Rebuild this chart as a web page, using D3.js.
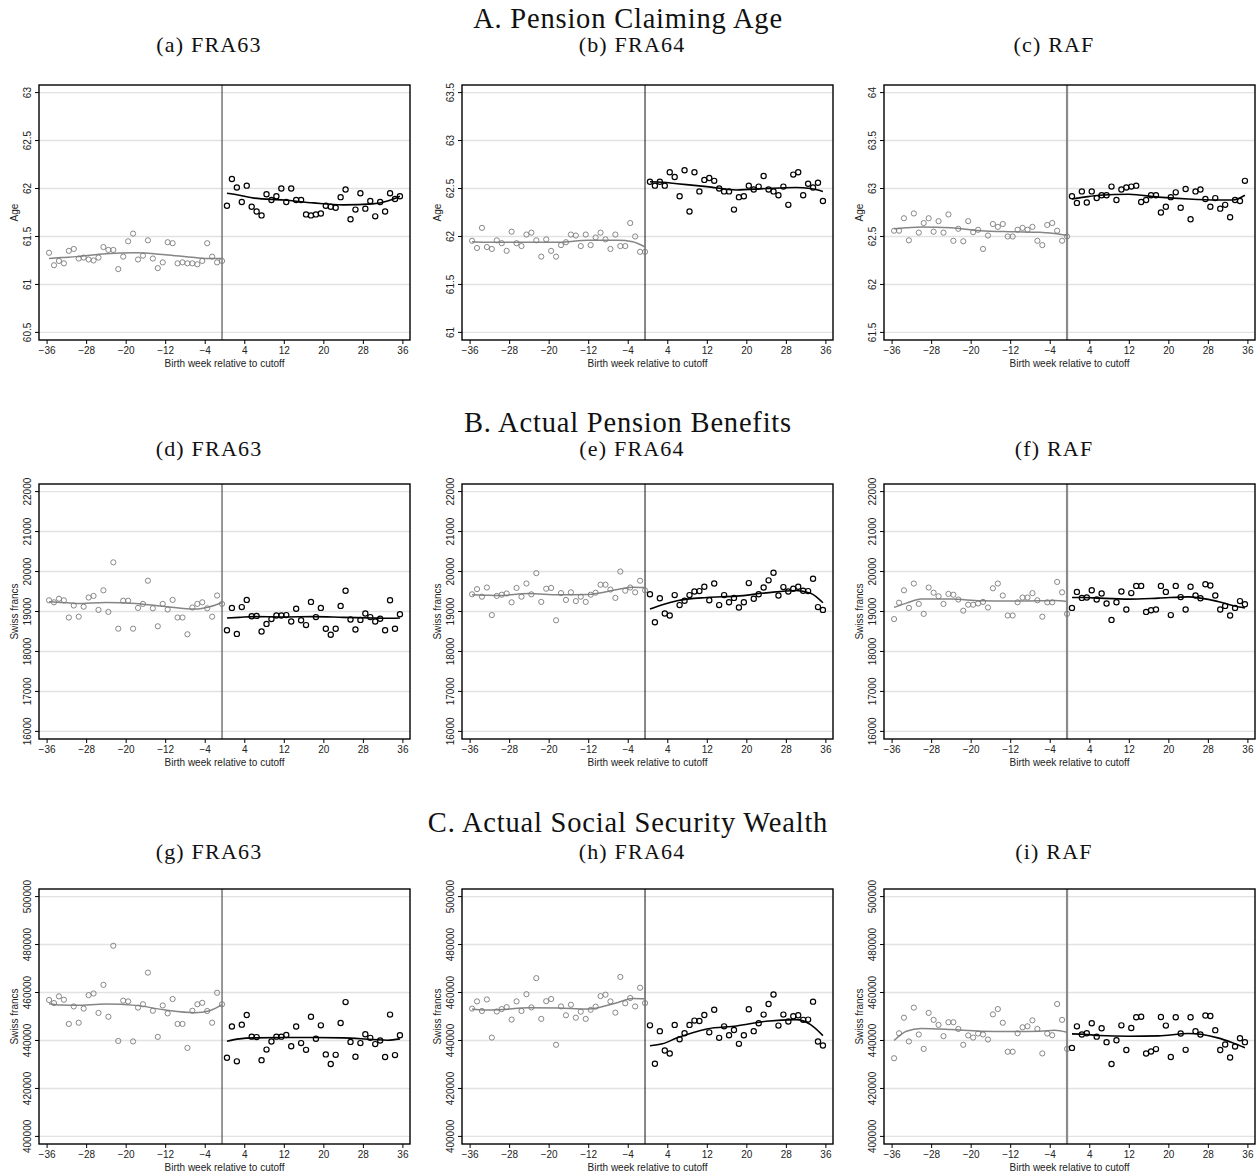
<!DOCTYPE html>
<html>
<head>
<meta charset="utf-8">
<script src="https://cdn.jsdelivr.net/npm/d3@7"></script>
<style>
  body { margin: 0; background: #fff; }
  svg { display: block; }
</style>
</head>
<body>
<svg id="chart" width="1259" height="1173"></svg>
<script>
// birth week bins (x categories)
var weeksLeft = d3.range(-35.5, 0, 1)
var weeksRight = d3.range(0.5, 36, 1)
var fitWeeksLeft = [-35.5, -33, -30, -24, -18, -12, -6, -3, -0.5]
var fitWeeksRight = [0.5, 3, 6, 12, 18, 24, 30, 33, 35.5]
var xTicks = [-36, -28, -20, -12, -4, 4, 12, 20, 28, 36]

// A. pension claiming age
var ageFRA63Left = [61.33,61.20,61.245,61.22,61.35,61.37,61.27,61.28,61.26,61.25,61.28,61.39,61.36,61.36,61.16,61.29,61.45,61.53,61.26,61.30,61.46,61.27,61.17,61.23,61.44,61.43,61.22,61.23,61.22,61.22,61.21,61.245,61.43,61.29,61.23,61.245]
var ageFRA63Right = [61.82,62.10,62.01,61.86,62.03,61.81,61.76,61.72,61.94,61.88,61.92,62.00,61.86,62.00,61.88,61.88,61.73,61.72,61.73,61.74,61.82,61.81,61.80,61.91,61.99,61.68,61.78,61.95,61.79,61.87,61.71,61.86,61.76,61.95,61.89,61.92]
var ageFRA63FitLeft = [61.27,61.28,61.29,61.32,61.33,61.31,61.28,61.27,61.27]
var ageFRA63FitRight = [61.95,61.93,61.90,61.88,61.85,61.83,61.84,61.87,61.92]

var ageFRA64Left = [61.955,61.88,62.09,61.89,61.87,61.96,61.93,61.85,62.05,61.93,61.90,62.02,62.04,61.96,61.79,61.97,61.85,61.79,61.91,61.94,62.02,62.01,61.90,62.02,61.91,61.99,62.04,61.97,61.87,62.02,61.90,61.90,62.14,62.00,61.84,61.84]
var ageFRA64Right = [62.57,62.53,62.57,62.53,62.67,62.62,62.42,62.69,62.26,62.67,62.47,62.59,62.61,62.58,62.50,62.47,62.47,62.28,62.41,62.42,62.53,62.49,62.52,62.63,62.49,62.47,62.43,62.52,62.33,62.645,62.67,62.43,62.55,62.51,62.56,62.37]
var ageFRA64FitLeft = [61.945,61.94,61.94,61.94,61.94,61.96,61.96,61.945,61.89]
var ageFRA64FitRight = [62.57,62.565,62.55,62.52,62.485,62.50,62.51,62.50,62.47]

var ageRAFLeft = [62.56,62.56,62.69,62.46,62.74,62.54,62.64,62.69,62.55,62.66,62.54,62.73,62.455,62.58,62.45,62.66,62.545,62.57,62.37,62.51,62.63,62.60,62.63,62.50,62.50,62.57,62.59,62.57,62.60,62.455,62.41,62.62,62.64,62.56,62.455,62.50]
var ageRAFRight = [62.92,62.85,62.97,62.855,62.97,62.90,62.93,62.93,63.02,62.88,62.99,63.01,63.02,63.03,62.86,62.88,62.93,62.93,62.75,62.81,62.91,62.96,62.80,62.995,62.68,62.97,62.99,62.89,62.81,62.90,62.79,62.83,62.70,62.88,62.87,63.08]
var ageRAFFitLeft = [62.58,62.59,62.60,62.59,62.56,62.55,62.545,62.53,62.51]
var ageRAFFitRight = [62.89,62.91,62.93,62.94,62.91,62.89,62.88,62.88,62.93]

// B. actual pension benefits
var benFRA63Left = [19280,19230,19320,19280,18850,19150,18870,19120,19350,19390,19040,19530,18990,20230,18570,19270,19270,18570,19090,19190,19770,19080,18630,19190,19050,19290,18850,18850,18430,19100,19190,19230,19080,18870,19400,19190]
var benFRA63Right = [18530,19090,18440,19110,19290,18880,18890,18500,18690,18810,18900,18900,18910,18750,19070,18780,18660,19240,18860,19090,18570,18420,18570,19140,19520,18800,18550,18790,18950,18860,18750,18820,18530,19280,18570,18930]
var benFRA63FitLeft = [19243,19227,19202,19227,19202,19127,19061,19119,19227]
var benFRA63FitRight = [18838,18854,18871,18863,18871,18854,18838,18830,18838]

var benFRA64Left = [19430,19560,19370,19600,18910,19390,19420,19450,19230,19590,19370,19700,19430,19960,19240,19570,19590,18780,19460,19290,19480,19260,19370,19240,19420,19470,19670,19670,19550,19340,20000,19520,19600,19480,19770,19530]
var benFRA64Right = [19430,18730,19330,18950,18900,19410,19160,19270,19410,19500,19510,19620,19280,19700,19160,19410,19230,19340,19100,19230,19710,19320,19430,19600,19780,19970,19400,19610,19500,19570,19620,19520,19510,19820,19110,19040]
var benFRA64FitLeft = [19417,19409,19400,19450,19417,19426,19550,19608,19599]
var benFRA64FitRight = [19061,19168,19268,19351,19384,19467,19525,19459,19219]

var benRAFLeft = [18810,19220,19530,19090,19700,19190,18940,19600,19470,19380,19190,19440,19420,19300,19020,19170,19170,19200,19240,19100,19580,19700,19400,18900,18900,19230,19350,19350,19460,19280,18870,19230,19230,19740,19480,18940]
var benRAFRight = [19090,19490,19340,19350,19530,19300,19450,19200,18790,19230,19500,19050,19460,19640,19640,18990,19030,19050,19640,19490,18910,19640,19360,19050,19620,19400,19330,19680,19650,19400,19050,19140,18900,19090,19260,19180]
var benRAFFitLeft = [19103,19210,19310,19310,19268,19260,19268,19277,19252]
var benRAFFitRight = [19351,19351,19334,19310,19334,19367,19252,19152,19086]

// C. actual social security wealth
var sswFRA63Left = [456900,455600,458400,457000,446900,454200,447400,453300,458900,459600,451500,463200,449900,479500,439800,456600,456300,439600,453700,455100,468300,452400,441500,454600,451300,457300,446900,446900,436900,452400,455100,455700,452300,447400,459900,455100]
var sswFRA63Right = [432800,445800,431300,446600,450600,441600,441400,431800,436200,439600,441600,441600,442300,437600,445800,438900,436100,449900,440700,446300,434200,430200,434000,447300,456000,439400,433200,438900,442600,441100,438500,440000,433100,450800,433900,442200]
var sswFRA63FitLeft = [455330,454770,454640,455190,454640,452700,451600,452430,454920]
var sswFRA63FitRight = [439700,440670,441090,441230,441230,441090,440390,440120,440670]

var sswFRA64Left = [453300,456300,452300,457100,441200,452100,453100,453900,448700,456300,452300,459300,453800,466000,449000,456400,457300,438200,454200,450500,454900,449500,452000,449000,452800,454100,458500,459100,456300,451600,466500,455500,457700,454200,462000,455600]
var sswFRA64Right = [446300,430300,443900,435800,434600,446500,440500,443000,446500,448300,448100,450600,443400,452800,441100,445900,442200,444400,438600,442200,453000,443900,447200,450800,455200,459200,446200,450800,447900,450100,450500,448600,448700,456200,439600,437900]
var sswFRA64FitLeft = [453120,452700,452840,453670,453530,453120,455880,457540,457400]
var sswFRA64FitRight = [437770,438600,441090,444820,446060,448000,448690,446620,442050]

var sswRAFLeft = [432600,443000,449500,439600,453700,442500,436500,451500,448600,446500,441800,447600,447600,444800,438200,442100,441200,442900,442500,440400,450900,453100,447400,435300,435300,443000,445500,445900,448400,444800,434600,442900,442200,455200,448600,436500]
var sswRAFRight = [436900,445900,442500,443000,447200,441600,445100,439300,430200,440100,446300,436000,445200,449700,449900,434600,435400,436400,449800,446200,433100,449700,442900,436100,449700,443900,442500,450400,450200,444300,436000,438300,432900,437500,440900,439300]
var sswRAFFitLeft = [439980,443850,444960,444540,443850,443710,443850,444260,443430]
var sswRAFFitRight = [442740,442600,442050,441780,441920,442880,441090,439010,436935]

var rowTitles = ["A. Pension Claiming Age", "B. Actual Pension Benefits", "C. Actual Social Security Wealth"]
var panelTitles = ["(a) FRA63","(b) FRA64","(c) RAF","(d) FRA63","(e) FRA64","(f) RAF","(g) FRA63","(h) FRA64","(i) RAF"]
var yLabels = ["Age", "Swiss francs", "Swiss francs"]
var yTicksAgeFRA63 = [60.5, 61, 61.5, 62, 62.5, 63]
var yTicksAgeFRA64 = [61, 61.5, 62, 62.5, 63, 63.5]
var yTicksAgeRAF = [61.5, 62, 62.5, 63, 63.5, 64]
var yTicksBen = [16000, 17000, 18000, 19000, 20000, 21000, 22000]
var yTicksSsw = [400000, 420000, 440000, 460000, 480000, 500000]

var panels = [
  {left: ageFRA63Left, right: ageFRA63Right, fitL: ageFRA63FitLeft, fitR: ageFRA63FitRight, ticks: yTicksAgeFRA63},
  {left: ageFRA64Left, right: ageFRA64Right, fitL: ageFRA64FitLeft, fitR: ageFRA64FitRight, ticks: yTicksAgeFRA64},
  {left: ageRAFLeft, right: ageRAFRight, fitL: ageRAFFitLeft, fitR: ageRAFFitRight, ticks: yTicksAgeRAF},
  {left: benFRA63Left, right: benFRA63Right, fitL: benFRA63FitLeft, fitR: benFRA63FitRight, ticks: yTicksBen},
  {left: benFRA64Left, right: benFRA64Right, fitL: benFRA64FitLeft, fitR: benFRA64FitRight, ticks: yTicksBen},
  {left: benRAFLeft, right: benRAFRight, fitL: benRAFFitLeft, fitR: benRAFFitRight, ticks: yTicksBen},
  {left: sswFRA63Left, right: sswFRA63Right, fitL: sswFRA63FitLeft, fitR: sswFRA63FitRight, ticks: yTicksSsw},
  {left: sswFRA64Left, right: sswFRA64Right, fitL: sswFRA64FitLeft, fitR: sswFRA64FitRight, ticks: yTicksSsw},
  {left: sswRAFLeft, right: sswRAFRight, fitL: sswRAFFitLeft, fitR: sswRAFFitRight, ticks: yTicksSsw}
]

var svg = d3.select("#chart")
var colX = [39, 462, 884]
var rowY = [85, 484, 889]
var W = 371, H = 255, pad = 7.6
var titleY = [28, 432, 832]
var subY = [52, 456, 859]
// cutoff line looks a bit different in each column
var cutColor = ["#555", "#111", "#8a8a8a"]
var cutWidth = [1.2, 1, 2.2]
var sans = "'Liberation Sans', Arial, sans-serif"
var serif = "'Liberation Serif', 'Times New Roman', serif"
var minus = function(v) { return String(v).replace("-", "\u2212") }

rowTitles.forEach(function(t, r) {
  svg.append("text").text(t).attr("x", 628).attr("y", titleY[r])
    .attr("text-anchor", "middle").attr("font-family", serif).attr("font-size", 28.5)
    .attr("letter-spacing", 0.8).attr("fill", "#111")
})

panels.forEach(function(p, k) {
  var r = Math.floor(k / 3), c = k % 3
  var g = svg.append("g").attr("transform", "translate(" + colX[c] + "," + rowY[r] + ")")
  var x = d3.scaleLinear().domain([-36, 36]).range([pad, W - pad])
  var y = d3.scaleLinear().domain(d3.extent(p.ticks)).range([H - pad, pad])

  svg.append("text").text(panelTitles[k]).attr("x", colX[c] + 170).attr("y", subY[r])
    .attr("text-anchor", "middle").attr("font-family", serif).attr("font-size", 22)
    .attr("letter-spacing", 1.2).attr("fill", "#111")

  // gridlines
  g.selectAll("line.grid").data(p.ticks).enter().append("line").attr("class", "grid")
    .attr("x1", 0).attr("x2", W).attr("y1", function(d) { return y(d) }).attr("y2", function(d) { return y(d) })
    .attr("stroke", "#e2e2e2").attr("stroke-width", 1.4)

  // axes
  var yAxis = g.append("g").call(d3.axisLeft(y).tickValues(p.ticks).tickSize(4).tickFormat(function(d) { return String(+d.toFixed(1)) }))
  yAxis.select(".domain").remove()
  yAxis.selectAll(".tick").attr("transform", null)
  yAxis.selectAll(".tick line").attr("y1", function(d) { return y(d) }).attr("y2", function(d) { return y(d) })
  yAxis.selectAll("text").attr("x", null).attr("dy", null).attr("y", 0)
    .attr("text-anchor", "middle")
    .attr("transform", function(d) { return "translate(-8," + y(d) + ") rotate(-90)" })
    .attr("font-family", sans).attr("font-size", 10).attr("fill", "#222")

  var xAxis = g.append("g").attr("transform", "translate(0," + H + ")")
    .call(d3.axisBottom(x).tickValues(xTicks).tickSize(4).tickFormat(minus))
  xAxis.select(".domain").remove()
  xAxis.selectAll("text").attr("font-family", sans).attr("font-size", 10).attr("fill", "#222").attr("dy", "0.7em")

  g.append("text").text("Birth week relative to cutoff").attr("x", W / 2).attr("y", H + 27)
    .attr("text-anchor", "middle").attr("font-family", sans).attr("font-size", 10).attr("fill", "#222")
  g.append("text").text(yLabels[r]).attr("transform", "translate(-21," + (H / 2) + ") rotate(-90)")
    .attr("text-anchor", "middle").attr("font-family", sans).attr("font-size", 10).attr("fill", "#222")

  // cutoff
  g.append("line").attr("x1", x(-0.5)).attr("x2", x(-0.5)).attr("y1", 0).attr("y2", H)
    .attr("stroke", cutColor[c]).attr("stroke-width", cutWidth[c])

  var line = d3.line().x(function(d) { return x(d[0]) }).y(function(d) { return y(d[1]) }).curve(d3.curveMonotoneX)
  g.append("path").datum(d3.zip(fitWeeksLeft, p.fitL)).attr("d", line)
    .attr("fill", "none").attr("stroke", "#858585").attr("stroke-width", 1.5)
  g.append("path").datum(d3.zip(fitWeeksRight, p.fitR)).attr("d", line)
    .attr("fill", "none").attr("stroke", "#000").attr("stroke-width", 1.6)

  g.selectAll("circle.l").data(d3.zip(weeksLeft, p.left)).enter().append("circle").attr("class", "l")
    .attr("cx", function(d) { return x(d[0]) }).attr("cy", function(d) { return y(d[1]) }).attr("r", 2.6)
    .attr("fill", "none").attr("stroke", "#7a7a7a").attr("stroke-width", 0.9)
  g.selectAll("circle.r").data(d3.zip(weeksRight, p.right)).enter().append("circle").attr("class", "r")
    .attr("cx", function(d) { return x(d[0]) }).attr("cy", function(d) { return y(d[1]) }).attr("r", 2.6)
    .attr("fill", "none").attr("stroke", "#000").attr("stroke-width", 1.2)

  // frame
  g.append("rect").attr("x", 0).attr("y", 0).attr("width", W).attr("height", H)
    .attr("fill", "none").attr("stroke", "#000").attr("stroke-width", 1.4)
})
</script>
</body>
</html>
